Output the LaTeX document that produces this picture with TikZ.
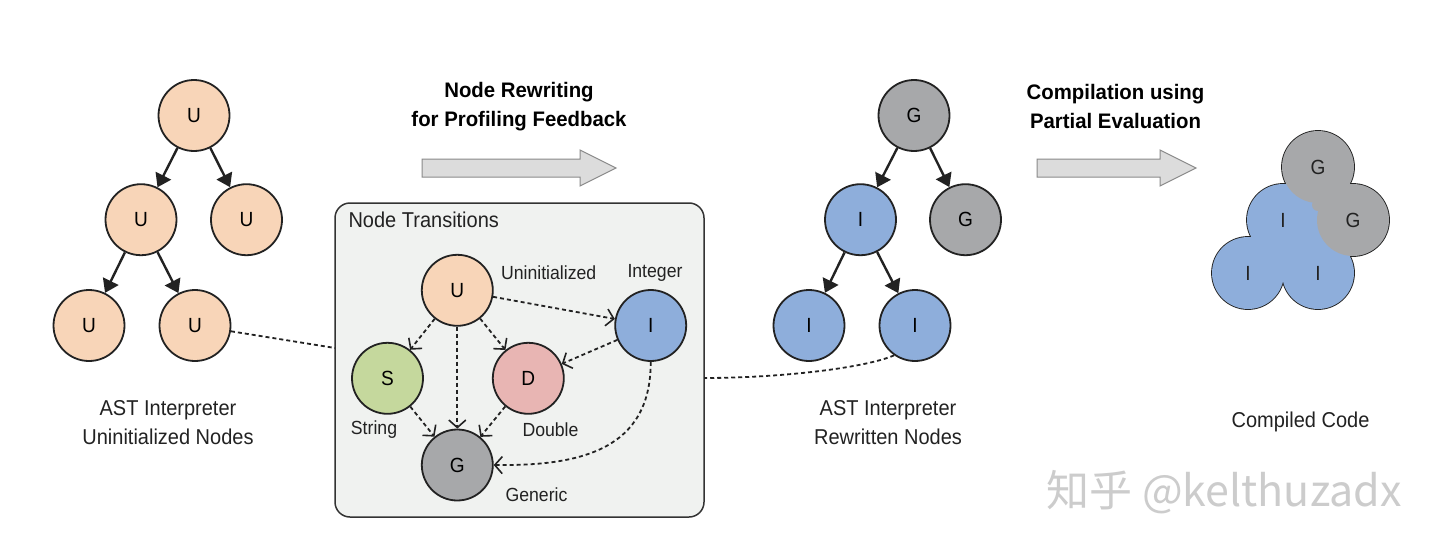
\documentclass[tikz,border=0pt]{standalone}
\usepackage{fontspec}
\setmainfont{Liberation Sans}[FakeStretch=0.93]
\newfontfamily\titlefont{Liberation Sans}[FakeStretch=0.97]
\newfontfamily\cjkfont{Noto Sans CJK SC}
\usetikzlibrary{arrows.meta}
\definecolor{cU}{HTML}{F8D5B8}
\definecolor{cI}{HTML}{8EAEDB}
\definecolor{cG}{HTML}{A7A8AA}
\definecolor{cS}{HTML}{C5D89D}
\definecolor{cD}{HTML}{E8B5B3}
\definecolor{boxfill}{HTML}{F0F2F0}
\definecolor{boxline}{HTML}{333333}
\definecolor{arrfill}{HTML}{DCDCDC}
\definecolor{arrline}{HTML}{8A8A8A}
\definecolor{ink}{HTML}{222222}
\tikzset{
  circ/.style={circle, draw=ink, line width=1.8pt, minimum size=71pt, inner sep=0pt, font=\fontsize{20.5}{24}\selectfont},
  uN/.style={circ, fill=cU},
  iN/.style={circ, fill=cI},
  gN/.style={circ, fill=cG},
  sN/.style={circ, fill=cS},
  dN/.style={circ, fill=cD},
  tarr/.style={line width=2.4pt, draw=ink, -{Triangle[length=13pt,width=17pt]}},
  dline/.style={line width=1.8pt, draw=ink, dash pattern=on 4pt off 3pt},
  darr/.style={dline, -{Straight Barb[length=7.5pt,width=17pt,line width=1.6pt]}},
  blk/.style={fill=arrfill, draw=arrline, line width=1pt},
  lbl/.style={font=\fontsize{21.5}{29}\selectfont, align=center, text=ink},
  slbl/.style={font=\fontsize{19}{23}\selectfont, text=ink},
  ttl/.style={font=\titlefont\bfseries\fontsize{21}{29}\selectfont, align=center, text=black},
  cl/.style={font=\fontsize{20.5}{24}\selectfont, text=ink},
}
\begin{document}
\begin{tikzpicture}[x=1pt,y=-1pt]
\useasboundingbox (0,0) rectangle (1440,551);
\fill[white] (0,0) rectangle (1440,551);

% ---------- left tree ----------
\node[uN] (lu1) at (194,115.5) {U};
\node[uN] (lu2) at (141,219.7) {U};
\node[uN] (lu3) at (246.5,219.7) {U};
\node[uN] (lu4) at (89,325.5) {U};
\node[uN] (lu5) at (195,325.5) {U};
\draw[tarr] (lu1) -- (lu2);
\draw[tarr] (lu1) -- (lu3);
\draw[tarr] (lu2) -- (lu4);
\draw[tarr] (lu2) -- (lu5);
\node[lbl] (llab) at (168,422.5) {AST Interpreter\\Uninitialized Nodes};

% ---------- arrow 1 ----------
\node[ttl] (t1) at (519,106.5) {Node Rewriting\\for Profiling Feedback};
\draw[blk] (422,159) -- (580,159) -- (580,150) -- (616,168) -- (580,186) -- (580,177) -- (422,177) -- cycle;

% ---------- node transitions box ----------
\node[draw=boxline, fill=boxfill, rounded corners=15pt, line width=1.5pt,
      minimum width=369pt, minimum height=314pt, inner sep=0pt] (box) at (519.5,360) {};
\node[font=\fontsize{21.5}{25}\selectfont, anchor=west, text=ink] (boxt) at (345,220) {Node Transitions};
\node[uN] (tu) at (457.3,290.3) {U};
\node[iN] (ti) at (650.7,325.5) {I};
\node[sN] (ts) at (387.5,378.3) {S};
\node[dN] (td) at (528.3,378.3) {D};
\node[gN] (tg) at (457.3,465) {G};
\node[slbl] (lu) at (548.7,272.5) {Uninitialized};
\node[slbl] (li) at (655,272.5) {Integer};
\node[slbl] (ls) at (374,430) {String};
\node[slbl] (ld) at (550.5,430) {Double};
\node[slbl] (lg) at (536.5,495) {Generic};
\draw[darr] (tu) -- (ts);
\draw[darr] (tu) -- (tg);
\draw[darr] (tu) -- (td);
\draw[darr] (tu) -- (ti);
\draw[darr] (ti) -- (td);
\draw[darr] (ts) -- (tg);
\draw[darr] (td) -- (tg);
\draw[darr] (ti.south) .. controls (651,450) and (580,466) .. (tg.east);

% connectors to box
\coordinate (lj) at (335,348);
\draw[dline] (lu5) -- (lj);

% ---------- right tree ----------
\node[gN] (rg1) at (914,115.5) {G};
\node[iN] (ri2) at (860.5,219.7) {I};
\node[gN] (rg3) at (965.5,219.7) {G};
\node[iN] (ri4) at (809,325.5) {I};
\node[iN] (ri5) at (915,325.5) {I};
\draw[tarr] (rg1) -- (ri2);
\draw[tarr] (rg1) -- (rg3);
\draw[tarr] (ri2) -- (ri4);
\draw[tarr] (ri2) -- (ri5);
\node[lbl] (rlab) at (888,422.5) {AST Interpreter\\Rewritten Nodes};
\coordinate (rj) at (704,378);
\draw[dline] (ri5.235) .. controls (865,368) and (780,378) .. (rj);

% ---------- arrow 2 ----------
\node[ttl] (t2) at (1115.5,106.5) {Compilation using\\Partial Evaluation};
\draw[blk] (1037,159) -- (1160,159) -- (1160,150) -- (1196,168) -- (1160,186) -- (1160,177) -- (1037,177) -- cycle;

% ---------- compiled code ----------
\begin{scope}[line width=1.8pt, draw=ink]
  \draw[fill=cI] (1283,220) circle[radius=36pt];
  \draw[fill=cI] (1248,273) circle[radius=36pt];
  \draw[fill=cI] (1318,273) circle[radius=36pt];
  \draw[fill=cG] (1318,167) circle[radius=36pt];
  \draw[fill=cG] (1353,220) circle[radius=36pt];
  \fill[cI] (1283,220) circle[radius=36pt];
  \fill[cI] (1248,273) circle[radius=36pt];
  \fill[cI] (1318,273) circle[radius=36pt];
  \fill[cI] (1283,258) circle[radius=7pt];
  \fill[cI] (1318,235) circle[radius=7pt];
  \fill[cG] (1318,167) circle[radius=36pt];
  \fill[cG] (1353,220) circle[radius=36pt];
  \fill[cG] (1318,205) circle[radius=6pt];
\end{scope}
\node[cl] (cg1) at (1318,167) {G};
\node[cl] (cg2) at (1353,220) {G};
\node[cl] (ci1) at (1283,220) {I};
\node[cl] (ci2) at (1248,273) {I};
\node[cl] (ci3) at (1318,273) {I};
\node[lbl] (clab) at (1300.5,421.5) {Compiled Code};

% ---------- watermark ----------
\node[font=\cjkfont\fontsize{43}{46}\selectfont, text=black!20] (wm) at (1224,492) {知乎 @kelthuzadx};
\end{tikzpicture}
\end{document}
